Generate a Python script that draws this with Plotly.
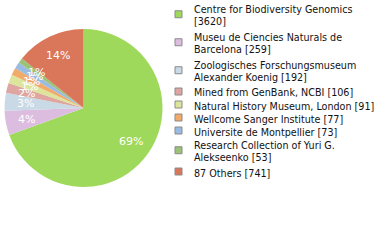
import plotly.graph_objects as go
import math

legend_lines = [["Centre for Biodiversity Genomics", "[3620]"],
                ["Museu de Ciencies Naturals de", "Barcelona [259]"],
                ["Zoologisches Forschungsmuseum", "Alexander Koenig [192]"],
                ["Mined from GenBank, NCBI [106]"],
                ["Natural History Museum, London [91]"],
                ["Wellcome Sanger Institute [77]"],
                ["Universite de Montpellier [73]"],
                ["Research Collection of Yuri G.", "Alekseenko [53]"],
                ["87 Others [741]"]]
labels = ["Centre for Biodiversity Genomics", "Museu de Ciencies Naturals de Barcelona",
          "Zoologisches Forschungsmuseum Alexander Koenig", "Mined from GenBank, NCBI",
          "Natural History Museum, London", "Wellcome Sanger Institute",
          "Universite de Montpellier", "Research Collection of Yuri G. Alekseenko", "87 Others"]
values = [3620, 259, 192, 106, 91, 77, 73, 53, 741]
colors = ["#9fd95b", "#dcbde0", "#c9d9e5", "#dfa6a1", "#dce59b", "#f2aa6a", "#9abce2", "#9bc277", "#da7659"]

W, H = 380, 240
cx, cy, R = 83.5, 108.0, 79.0  # pie geometry in pixels

total = sum(values)
pct_text = [f"{math.floor(v * 100 / total)}%" for v in values]

fig = go.Figure(go.Pie(
    labels=labels, values=values, textinfo="none",
    sort=False, direction="clockwise", rotation=0,
    marker=dict(colors=colors, line=dict(width=0)),
    domain=dict(x=[(cx - R) / W, (cx + R) / W], y=[(H - cy - R) / H, (H - cy + R) / H]),
    hoverinfo="label+value", showlegend=False,
))

annotations = []
shapes = []
# percentage labels, placed along each slice's mid-angle
cum = 0.0
for v, t in zip(values, pct_text):
    mid = (cum + v / 2) / total * 2 * math.pi
    cum += v
    px = cx + 0.74 * R * math.sin(mid)
    py = cy - 0.74 * R * math.cos(mid)
    annotations.append(dict(x=px / W, y=1 - py / H, xref="paper", yref="paper", text=t,
                            showarrow=False, xanchor="center", yanchor="middle",
                            font=dict(family="DejaVu Sans", size=11, color="white")))

# legend
top = 2.0
for lines, c in zip(legend_lines, colors):
    n = len(lines)
    h = 13 if n == 1 else 26.5
    center = top + h / 2
    top += h + (1.5 if n == 2 else 0)
    sc = center - 1
    shapes.append(dict(type="rect", xref="paper", yref="paper",
                       x0=175 / W, x1=182 / W, y0=1 - (sc - 3.5) / H, y1=1 - (sc + 3.5) / H,
                       fillcolor=c, line=dict(color="#8a8a8a", width=1)))
    annotations.append(dict(x=192 / W, y=1 - (center + 0.5) / H, xref="paper", yref="paper",
                            text="<br>".join(lines), showarrow=False, xanchor="left",
                            yanchor="middle", align="left",
                            font=dict(family="DejaVu Sans", size=9.6, color="#111")))

fig.update_layout(
    width=W, height=H, margin=dict(l=0, r=0, t=0, b=0, autoexpand=False),
    paper_bgcolor="white", plot_bgcolor="white", showlegend=False,
    annotations=annotations, shapes=shapes,
)
fig.write_html("out.html")
